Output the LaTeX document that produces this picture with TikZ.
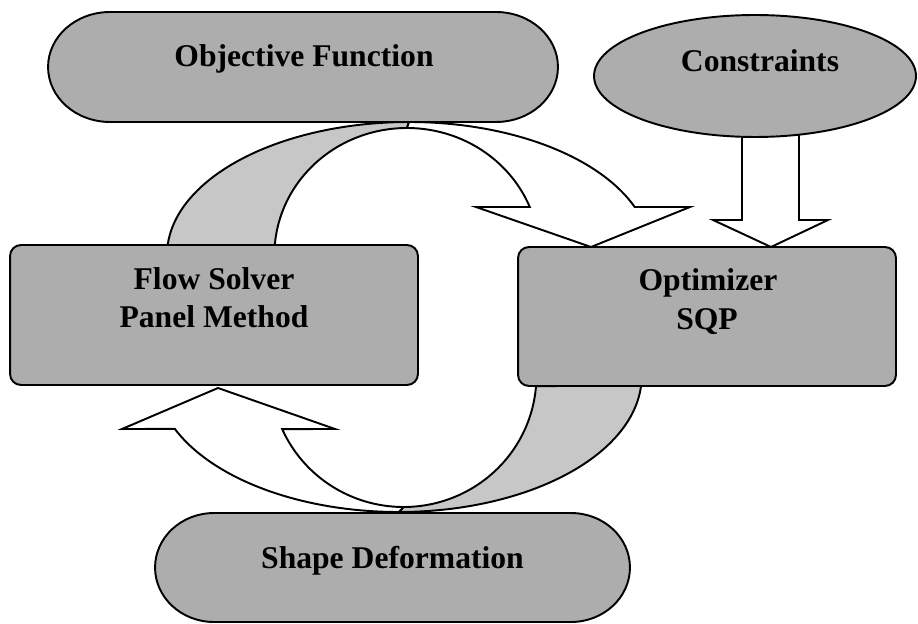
\documentclass[tikz,border=0pt]{standalone}
\usepackage{fontspec}
\setmainfont{Liberation Serif}
\usetikzlibrary{shapes.geometric}
\definecolor{boxgray}{gray}{0.68}
\definecolor{arrgray}{gray}{0.78}
\begin{document}
\begin{tikzpicture}[x=0.02cm,y=-0.02cm,
  line width=1.1pt,
  boxstyle/.style={draw, fill=boxgray, rounded corners=0.22cm, inner sep=0pt, outer sep=0pt},
  ellstyle/.style={draw, fill=boxgray, ellipse, inner sep=0pt, outer sep=0pt},
  frame/.style={inner sep=0pt, outer sep=0pt},
  stadium/.style={draw, fill=boxgray},
  backpart/.style={draw, fill=arrgray, line join=round},
  frontpart/.style={draw, fill=white, line join=miter},
  lbl/.style={font=\fontsize{18}{21}\selectfont\bfseries, inner sep=0pt, anchor=base}]

\useasboundingbox (0,0) rectangle (918,624);

% named points
\coordinate (tipA) at (591,247);
\coordinate (tipB) at (218,388);
\coordinate (tipC) at (771,247);

% top curved arrow: back (shaded) part
\draw[backpart] plot[smooth, domain=175.69:90, samples=60] ({409+242*cos(\x)},{255-133*sin(\x)})
  -- plot[smooth, domain=90:175.48, samples=60] ({407+132.6*cos(\x)},{255-127*sin(\x)}) -- cycle;
% top curved arrow: front (white) part with head
\draw[frontpart] plot[smooth, domain=90:21.16, samples=60] ({409+242*cos(\x)},{255-133*sin(\x)})
  -- (690,207) -- (tipA) -- (476,207)
  -- plot[smooth, domain=22.2:90, samples=60] ({407+132.6*cos(\x)},{255-127*sin(\x)}) -- cycle;

% bottom curved arrow: back (shaded) part
\draw[backpart] plot[smooth, domain=4.2:90, samples=60] ({398.7+243*cos(\x)},{376+136*sin(\x)})
  -- plot[smooth, domain=90:4.4, samples=60] ({403.6+132.8*cos(\x)},{376+131*sin(\x)}) -- cycle;
% bottom curved arrow: front (white) part with head
\draw[frontpart] plot[smooth, domain=90:157.1, samples=60] ({398.7+243*cos(\x)},{376+136*sin(\x)})
  -- (122,429) -- (tipB) -- (335,429)
  -- plot[smooth, domain=156.1:90, samples=60] ({403.6+132.8*cos(\x)},{376+131*sin(\x)}) -- cycle;

% constraints arrow
\draw[frontpart] (742,130) -- (742,220) -- (713,220) -- (tipC) -- (828,220) -- (799,220) -- (799,130) -- cycle;

% nodes
\node[boxstyle, minimum width=8.16cm, minimum height=2.8cm] (flow) at (214,315) {};
\node[boxstyle, minimum width=7.56cm, minimum height=2.78cm] (opt) at (707,316.5) {};
\node[ellstyle, minimum width=6.44cm, minimum height=2.44cm] (con) at (755,76) {};
\node[frame, minimum width=10.2cm, minimum height=2.2cm] (obj) at (303,67) {};
\node[frame, minimum width=9.5cm, minimum height=2.18cm] (shape) at (392.5,567.5) {};

\draw[stadium] ([xshift=1.24cm]obj.north west) -- ([xshift=-1.24cm]obj.north east)
  arc[start angle=90, end angle=-90, x radius=1.24cm, y radius=1.1cm]
  -- ([xshift=1.24cm]obj.south west)
  arc[start angle=270, end angle=90, x radius=1.24cm, y radius=1.1cm] -- cycle;
\draw[stadium] ([xshift=1.18cm]shape.north west) -- ([xshift=-1.18cm]shape.north east)
  arc[start angle=90, end angle=-90, x radius=1.18cm, y radius=1.09cm]
  -- ([xshift=1.18cm]shape.south west)
  arc[start angle=270, end angle=90, x radius=1.18cm, y radius=1.09cm] -- cycle;

% labels
\node[lbl] (objt) at (304,67) {Objective Function};
\node[lbl] (cont) at (760,72) {Constraints};
\node[lbl] (flowt1) at (214,290) {Flow Solver};
\node[lbl] (flowt2) at (214,328) {Panel Method};
\node[lbl] (optt1) at (708,291) {Optimizer};
\node[lbl] (optt2) at (707,330) {SQP};
\node[lbl] (shapet) at (392.5,568) {Shape Deformation};
\end{tikzpicture}
\end{document}
